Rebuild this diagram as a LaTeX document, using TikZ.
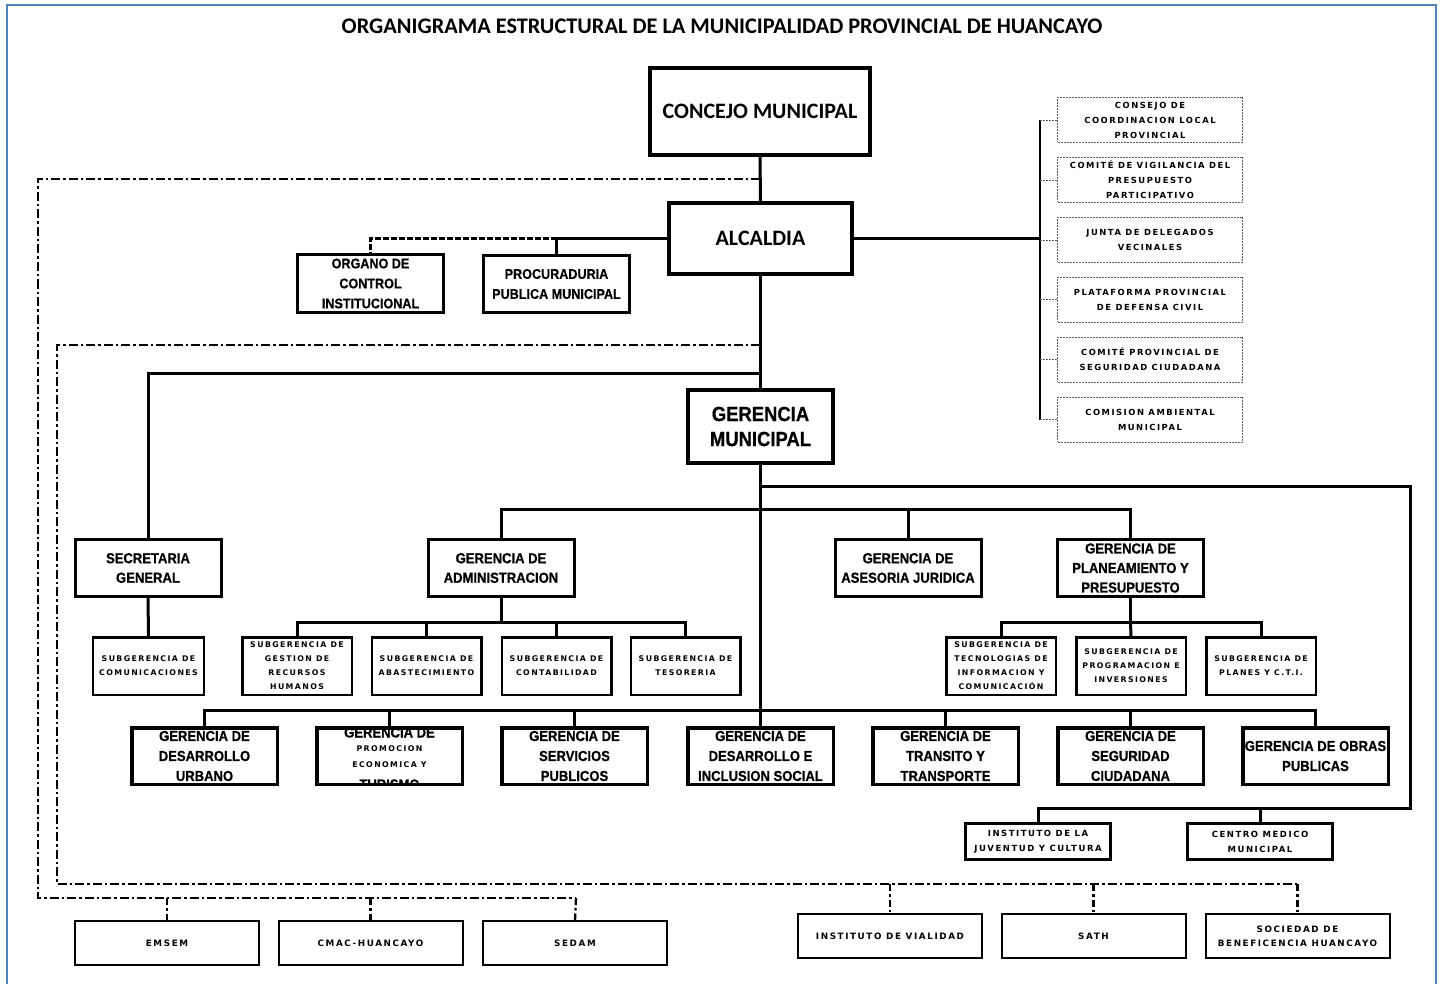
\documentclass[tikz,border=0pt]{standalone}
\usepackage{fontspec}
\setmainfont{Liberation Sans}
\newfontfamily\calib{Carlito}
\newfontfamily\narrowb{Liberation Sans}[FakeStretch=0.9, FakeBold=0.6]
\newfontfamily\spacedb{DejaVu Sans Bold}[LetterSpace=18]
\definecolor{frameblue}{RGB}{79,129,189}
\definecolor{commgray}{RGB}{95,95,95}
\tikzset{
  every node/.style={align=center, inner sep=0pt, outer sep=0pt},
  topbox/.style={draw, line width=4pt, font=\calib\bfseries\fontsize{22}{26}\selectfont},
  lvltwo/.style={draw, line width=3pt, minimum width=146pt, minimum height=57pt,
     font=\narrowb\bfseries\fontsize{14.5}{19.5}\selectfont},
  gmbox/.style={draw, line width=4pt, minimum width=145pt, minimum height=73pt,
     font=\narrowb\bfseries\fontsize{20.5}{25}\selectfont},
  gerrow/.style={draw, line width=3.5pt, minimum width=145.5pt, minimum height=56.5pt,
     font=\narrowb\bfseries\fontsize{14.5}{20}\selectfont},
  subbox/.style={draw, line width=2.5pt, minimum width=109.5pt, minimum height=57.5pt,
     font=\spacedb\fontsize{7.8}{14}\selectfont},
  instbox/.style={draw, line width=3pt, minimum width=145pt, minimum height=36pt,
     font=\spacedb\fontsize{8.5}{15}\selectfont},
  lowbox/.style={draw, line width=2pt, minimum width=184pt, minimum height=44pt,
     font=\spacedb\fontsize{8.8}{14}\selectfont},
  commbox/.style={draw=commgray, line width=0.9pt, dash pattern=on 2pt off 1pt,
     minimum width=185pt, minimum height=45pt,
     font=\spacedb\fontsize{8.4}{15}\selectfont},
  conn/.style={line width=3pt},
  thinconn/.style={line width=2pt},
  dashconn/.style={line width=3pt, dash pattern=on 6pt off 2pt},
  dotconn/.style={draw=commgray, line width=0.9pt, dash pattern=on 2pt off 1pt},
  ddash/.style={line width=2.3pt, dash pattern=on 9pt off 3pt on 2.5pt off 3pt},
  ddrop/.style={line width=2.3pt, dash pattern=on 7pt off 3pt on 2.5pt off 3pt},
}
\begin{document}
\begin{tikzpicture}[x=1pt,y=-1pt]
\useasboundingbox (0,0) rectangle (1442,984);
\fill[white] (0,0) rectangle (1442,984);
\draw[frameblue, line width=2.5pt] (7,5) rectangle (1436,996);

\node[font=\calib\bfseries\fontsize{22.3}{26}\selectfont] (title) at (722,26)
  {ORGANIGRAMA ESTRUCTURAL DE LA MUNICIPALIDAD PROVINCIAL DE HUANCAYO};

% top level
\node[topbox, minimum width=220pt, minimum height=87pt] (concejo) at (760,111.5) {CONCEJO MUNICIPAL};
\node[topbox, minimum width=183pt, minimum height=71pt] (alcaldia) at (760.5,238.5) {ALCALDIA};
\node[lvltwo, font=\narrowb\bfseries\fontsize{14}{20}\selectfont] (organo) at (370.5,283.5) {ORGANO DE\\CONTROL\\INSTITUCIONAL};
\node[lvltwo, font=\narrowb\bfseries\fontsize{14}{20}\selectfont] (procur) at (556.5,284) {PROCURADURIA\\PUBLICA MUNICIPAL};

% committees
\node[commbox] (c1) at (1150,120) {CONSEJO DE\\COORDINACION LOCAL\\PROVINCIAL};
\node[commbox] (c2) at (1150,180) {COMITÉ DE VIGILANCIA DEL\\PRESUPUESTO\\PARTICIPATIVO};
\node[commbox] (c3) at (1150,240) {JUNTA DE DELEGADOS\\VECINALES};
\node[commbox] (c4) at (1150,299.5) {PLATAFORMA PROVINCIAL\\DE DEFENSA CIVIL};
\node[commbox] (c5) at (1150,359.5) {COMITÉ PROVINCIAL DE\\SEGURIDAD CIUDADANA};
\node[commbox] (c6) at (1150,419.5) {COMISION AMBIENTAL\\MUNICIPAL};

% gerencia municipal
\node[gmbox] (gm) at (760.5,426.5) {GERENCIA\\MUNICIPAL};

% second level
\node[lvltwo] (secre) at (148,568) {SECRETARIA\\GENERAL};
\node[lvltwo] (gadmin) at (501,568) {GERENCIA DE\\ADMINISTRACION};
\node[lvltwo] (asesoria) at (908,568) {GERENCIA DE\\ASESORIA JURIDICA};
\node[lvltwo] (planea) at (1130.5,568) {GERENCIA DE\\PLANEAMIENTO Y\\PRESUPUESTO};

% subgerencias
\node[subbox, minimum width=111pt] (comunic) at (148.5,666) {SUBGERENCIA DE\\COMUNICACIONES};
\node[subbox] (rrhh) at (297,666) {SUBGERENCIA DE\\GESTION DE\\RECURSOS\\HUMANOS};
\node[subbox] (abast) at (426.5,666) {SUBGERENCIA DE\\ABASTECIMIENTO};
\node[subbox] (contab) at (556.5,666) {SUBGERENCIA DE\\CONTABILIDAD};
\node[subbox] (teso) at (685.5,666) {SUBGERENCIA DE\\TESORERIA};
\node[subbox] (tecno) at (1001,666) {SUBGERENCIA DE\\TECNOLOGIAS DE\\INFORMACION Y\\COMUNICACIÓN};
\node[subbox] (progra) at (1131,666) {SUBGERENCIA DE\\PROGRAMACION E\\INVERSIONES};
\node[subbox] (planes) at (1261,666) {SUBGERENCIA DE\\PLANES Y C.T.I.};

% gerencias row
\node[gerrow] (gdu) at (204.5,756) {GERENCIA DE\\DESARROLLO\\URBANO};
\begin{scope}
  \clip (317,728) rectangle (462,784.5);
  \node[anchor=base, font=\narrowb\bfseries\fontsize{14.5}{20}\selectfont] (gpet1) at (389.5,737.5) {GERENCIA DE};
  \node[anchor=base, font=\spacedb\fontsize{7.8}{16}\selectfont] (gpet2) at (389.5,751.5) {PROMOCION};
  \node[anchor=base, font=\spacedb\fontsize{7.8}{16}\selectfont] (gpet3) at (389.5,767.5) {ECONOMICA Y};
  \node[anchor=base, font=\narrowb\bfseries\fontsize{14.5}{20}\selectfont] (gpet4) at (389.5,789.5) {TURISMO};
\end{scope}
\node[gerrow] (gpe) at (389.5,756) {};
\node[gerrow] (gsp) at (574.5,756) {GERENCIA DE\\SERVICIOS\\PUBLICOS};
\node[gerrow] (gdis) at (760.5,756) {GERENCIA DE\\DESARROLLO E\\INCLUSION SOCIAL};
\node[gerrow] (gtt) at (945.5,756) {GERENCIA DE\\TRANSITO Y\\TRANSPORTE};
\node[gerrow] (gsc) at (1130.5,756) {GERENCIA DE\\SEGURIDAD\\CIUDADANA};
\node[gerrow] (gop) at (1315.5,756) {GERENCIA DE OBRAS\\PUBLICAS};

% institutes
\node[instbox] (juv) at (1038,841.5) {INSTITUTO DE LA\\JUVENTUD Y CULTURA};
\node[instbox] (centro) at (1260,841.5) {CENTRO MEDICO\\MUNICIPAL};

% bottom companies
\node[lowbox] (emsem) at (167,943) {EMSEM};
\node[lowbox] (cmac) at (370.5,943) {CMAC-HUANCAYO};
\node[lowbox] (sedam) at (575,943) {SEDAM};
\node[lowbox] (vial) at (890,936) {INSTITUTO DE VIALIDAD};
\node[lowbox] (sath) at (1093.5,936) {SATH};
\node[lowbox] (socie) at (1297.5,936) {SOCIEDAD DE\\BENEFICENCIA HUANCAYO};

% ---------- connectors ----------
\draw[conn] (concejo.south) -- (alcaldia.north);
\draw[conn] (alcaldia.south) -- (gm.north);

% outer dash-dot line
\coordinate (oa) at (760,179);
\coordinate (ob) at (38,179);
\coordinate (oc) at (38,898);
\coordinate (od) at (576,898);
\draw[ddash] (oa) -- (ob) -- (oc) -- (od);
\draw[ddrop] (emsem.north |- od) -- (emsem.north);
\draw[ddrop] (cmac.north |- od) -- (cmac.north);
\draw[ddrop] (od) -- (sedam.north);

% inner dash-dot line
\coordinate (ia) at (760,345);
\coordinate (ib) at (57,345);
\coordinate (ic) at (57,884);
\coordinate (id) at (1297.5,884);
\draw[ddash] (ia) -- (ib) -- (ic) -- (id);
\draw[ddrop] (vial.north |- id) -- (vial.north);
\draw[ddrop] (sath.north |- id) -- (sath.north);
\draw[ddrop] (id) -- (socie.north);

% alcaldia left
\coordinate (pj) at (procur.north |- alcaldia.west);
\draw[conn] (alcaldia.west) -- (pj) -- (procur.north);
\draw[dashconn] (pj) -| (organo.north);

% alcaldia right - committees
\coordinate (cj) at (1040,238.5);
\draw[conn] (alcaldia.east) -- (cj);
\draw[thinconn] (cj |- c1.west) -- (cj |- c6.west);
\foreach \c in {c1,c2,c3,c4,c5,c6} {
  \draw[dotconn] (cj |- \c.west) -- (\c.west);
}

% secretaria
\coordinate (sj) at (760,373);
\draw[conn] (sj) -| (secre.north);
\draw[conn] (secre.south) -- (comunic.north);

% gm trunk
\draw[conn] (gm.south) -- (gdis.north);

% right loop to institutes
\coordinate (ra) at (760,486);
\coordinate (rb) at (1410,486);
\coordinate (rc) at (1410,808);
\draw[conn] (ra) -- (rb) -- (rc) -| (juv.north);
\draw[conn] (centro.north |- rc) -- (centro.north);

% second level bus
\coordinate (ba) at (760,509);
\draw[conn] (gadmin.north) |- (ba) -| (planea.north);
\draw[conn] (asesoria.north |- ba) -- (asesoria.north);

% admin subs
\coordinate (ab) at (501,622);
\draw[conn] (gadmin.south) -- (ab);
\draw[conn] (rrhh.north) |- (ab) -| (teso.north);
\draw[conn] (abast.north |- ab) -- (abast.north);
\draw[conn] (contab.north |- ab) -- (contab.north);

% planeamiento subs
\coordinate (pb) at (1130.5,622);
\draw[conn] (planea.south) -- (pb);
\draw[conn] (tecno.north) |- (pb) -| (planes.north);
\draw[conn] (pb) -- (progra.north);

% gerencias bus
\coordinate (gb) at (760.5,710);
\draw[conn] (gdu.north) |- (gb) -| (gop.north);
\draw[conn] (gpe.north |- gb) -- (gpe.north);
\draw[conn] (gsp.north |- gb) -- (gsp.north);
\draw[conn] (gtt.north |- gb) -- (gtt.north);
\draw[conn] (gsc.north |- gb) -- (gsc.north);
\end{tikzpicture}
\end{document}
